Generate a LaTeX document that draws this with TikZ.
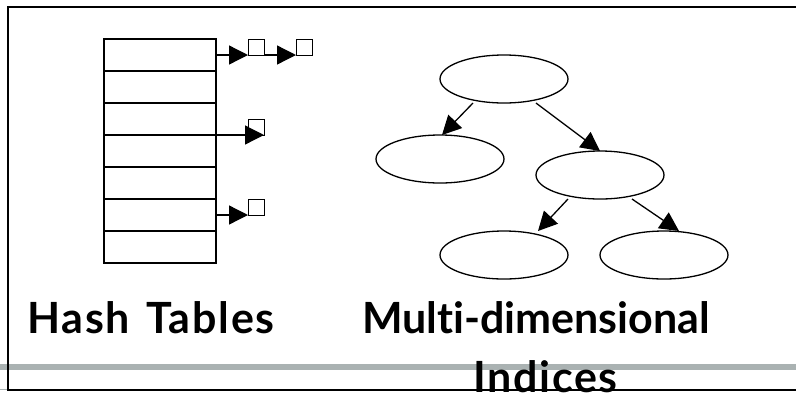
\documentclass[tikz,border=0pt]{standalone}
\usepackage{fontspec}
\newfontfamily\lblfont{Lato}[Ligatures=NoCommon]
\newfontfamily\lblwidefont{Lato}[Ligatures=NoCommon,LetterSpace=4]
\usetikzlibrary{arrows.meta,calc,shapes.geometric}
\begin{document}
\begin{tikzpicture}[x=1pt,y=-1pt,
  rowbox/.style={draw,line width=1.3pt,minimum width=112pt,minimum height=32pt,inner sep=0pt,outer sep=0pt},
  sqbox/.style={draw,line width=1pt,minimum size=16pt,inner sep=0pt,outer sep=0pt},
  ell/.style={ellipse,draw,line width=1.3pt,minimum width=128pt,minimum height=48pt,inner sep=0pt,outer sep=0pt},
  ptr/.style={line width=1.3pt,-{Triangle[length=19pt,width=19pt]}},
  lbl/.style={inner sep=0pt,anchor=base west,font=\lblfont\bfseries\fontsize{43}{50}\selectfont}
]
\useasboundingbox (0,0) rectangle (796,392);
% slide decorations
\draw[line width=5.5pt,color={rgb,255:red,170;green,178;blue,178}] (0,367) -- (796,367);
\draw[line width=1.2pt,color={rgb,255:red,170;green,178;blue,178}] (0,389.5) -- (796,389.5);
\draw[line width=1.6pt] (8,390) -- (8,7) -- (800,7) -- (800,390) -- cycle;
% hash table
\foreach \i in {1,...,7}{
  \node[rowbox] (r\i) at (160,{23+32*\i}) {};
}
\node[sqbox] (s1) at (256,47) {};
\node[sqbox] (s2) at (304,47) {};
\node[sqbox] (s3) at (256,127) {};
\node[sqbox] (s4) at (256,207) {};
\draw[ptr] (r1.east) -- (s1.south west);
\draw[ptr] (s1.south east) -- (s2.south west);
\draw[ptr] (r3.south east) -- (s3.south east);
\draw[ptr] (r6.east) -- (s4.south west);
% tree
\node[ell] (T) at (504,79) {};
\node[ell] (L) at (440,159) {};
\node[ell] (M) at (600,175) {};
\node[ell] (BL) at (504,255) {};
\node[ell] (BR) at (664,255) {};
\draw[ptr] ($(T.south)+(-31,0)$) -- ($(L.north)+(2,0)$);
\draw[ptr] ($(T.south)+(32,0)$) -- (M.north);
\draw[ptr] ($(M.south)+(-32,0)$) -- ($(BL.north)+(34,0)$);
\draw[ptr] ($(M.south)+(32,0)$) -- ($(BR.north)+(15,0)$);
% labels
\node[lbl,font=\lblwidefont\bfseries\fontsize{43}{50}\selectfont] (h) at (27,333) {Hash\hspace{4pt} Tables};
\node[lbl] (m) at (362,333) {Multi-dimensional};
\node[lbl,font=\lblwidefont\bfseries\fontsize{43}{50}\selectfont] (ix) at (473,392) {Indices};
\end{tikzpicture}
\end{document}
